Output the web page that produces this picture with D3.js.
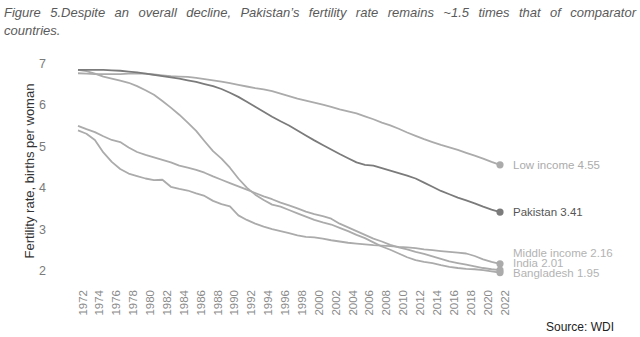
<!DOCTYPE html>
<html>
<head>
<meta charset="utf-8">
<script src="https://cdn.jsdelivr.net/npm/d3@7"></script>
<style>
  html, body { margin: 0; padding: 0; background: #fff; }
  svg { display: block; font-family: "Liberation Sans", Arial, sans-serif; }
</style>
</head>
<body>
<svg id="chart" width="640" height="337"></svg>
<script>
const years = d3.range(1972, 2023);
const tickYears = d3.range(1972, 2023, 2);
const yTicks = [2, 3, 4, 5, 6, 7];

const pakistan = [6.84,6.84,6.84,6.84,6.83,6.82,6.80,6.78,6.75,6.72,6.69,6.66,6.63,6.59,6.55,6.50,6.45,6.38,6.29,6.19,6.07,5.95,5.83,5.71,5.60,5.50,5.38,5.26,5.14,5.03,4.92,4.81,4.71,4.61,4.55,4.53,4.47,4.41,4.35,4.29,4.22,4.12,4.02,3.92,3.84,3.76,3.69,3.62,3.54,3.47,3.41];
const lowIncome = [6.76,6.75,6.74,6.74,6.74,6.74,6.75,6.75,6.75,6.73,6.71,6.69,6.68,6.67,6.65,6.62,6.59,6.56,6.52,6.48,6.44,6.40,6.37,6.33,6.27,6.21,6.15,6.10,6.05,6.00,5.95,5.89,5.84,5.79,5.72,5.65,5.57,5.50,5.42,5.33,5.25,5.17,5.10,5.03,4.97,4.91,4.84,4.77,4.70,4.62,4.55];
const bangladesh = [6.84,6.81,6.75,6.68,6.63,6.58,6.53,6.45,6.35,6.24,6.09,5.93,5.76,5.57,5.37,5.12,4.88,4.70,4.48,4.22,4.00,3.83,3.70,3.59,3.54,3.46,3.38,3.30,3.22,3.16,3.11,3.03,2.95,2.86,2.78,2.68,2.58,2.50,2.41,2.32,2.25,2.21,2.18,2.13,2.09,2.06,2.04,2.03,2.01,1.98,1.95];
const india = [5.49,5.41,5.34,5.24,5.15,5.10,4.97,4.86,4.79,4.73,4.67,4.61,4.53,4.48,4.43,4.36,4.27,4.19,4.11,4.03,3.95,3.87,3.79,3.72,3.64,3.57,3.50,3.42,3.36,3.31,3.25,3.13,3.04,2.95,2.86,2.77,2.70,2.62,2.56,2.51,2.45,2.40,2.34,2.28,2.22,2.18,2.14,2.10,2.06,2.03,2.01];
const middleIncome = [5.38,5.30,5.15,4.85,4.62,4.45,4.34,4.28,4.22,4.18,4.19,4.02,3.97,3.93,3.86,3.80,3.68,3.60,3.55,3.33,3.22,3.13,3.06,3.00,2.95,2.90,2.85,2.81,2.80,2.77,2.73,2.70,2.67,2.65,2.63,2.61,2.60,2.59,2.57,2.56,2.54,2.51,2.49,2.47,2.45,2.43,2.41,2.35,2.27,2.21,2.16];

const seriesNames = ["Low income", "Pakistan", "Middle income", "India", "Bangladesh"];
const seriesValues = [lowIncome, pakistan, middleIncome, india, bangladesh];
const lineColors = ["#ababab", "#7b7b7b", "#ababab", "#ababab", "#ababab"];
const labelColors = ["#ababab", "#555555", "#b3b3b3", "#b3b3b3", "#b3b3b3"];

const titleLine1 = "Figure 5.Despite an overall decline, Pakistan’s fertility rate remains ~1.5 times that of comparator";
const titleLine2 = "countries.";
const yTitle = "Fertility rate, births per woman";
const sourceText = "Source: WDI";

const svg = d3.select("#chart");

const x = d3.scaleLinear().domain([1972, 2022]).range([78, 500]);
const y = d3.scaleLinear().domain([2, 7]).range([270.5, 63.3]);

// Title (justified first line)
const title = svg.append("g").attr("font-style", "italic").attr("font-size", 13).attr("fill", "#5a5a5a");
const words = titleLine1.split(" ");
const tmp = words.map(w => title.append("text").attr("y", 17).text(w));
const widths = tmp.map(t => t.node().getComputedTextLength());
const left = 4, right = 636;
const gap = (right - left - d3.sum(widths)) / (words.length - 1);
let cx = left;
tmp.forEach((t, i) => { t.attr("x", cx); cx += widths[i] + gap; });
title.append("text").attr("x", left).attr("y", 35).text(titleLine2);

// Y axis labels
const yAxis = d3.axisLeft(y).tickValues(yTicks).tickSize(0).tickPadding(0).tickFormat(d3.format("d"));
const gy = svg.append("g").attr("transform", "translate(46,0)").call(yAxis);
gy.select(".domain").remove();
gy.selectAll("text").attr("font-size", 12.5).attr("fill", "#7a7a7a").attr("font-family", "Liberation Sans, Arial, sans-serif");

svg.append("text")
  .attr("transform", "translate(34,171) rotate(-90)")
  .attr("text-anchor", "middle")
  .attr("font-size", 13)
  .attr("fill", "#333")
  .text(yTitle);

// X axis labels
const xAxis = d3.axisBottom(x).tickValues(tickYears).tickSize(0).tickPadding(0).tickFormat(d3.format("d"));
const gx = svg.append("g").attr("transform", "translate(0,290)").call(xAxis);
gx.select(".domain").remove();
gx.selectAll(".tick text")
  .attr("font-size", 11.5)
  .attr("fill", "#8a8a8a")
  .attr("font-family", "Liberation Sans, Arial, sans-serif")
  .attr("text-anchor", "end")
  .attr("x", 0).attr("y", 0).attr("dy", "0.35em")
  .attr("transform", "translate(4,0) rotate(-90)");

// Lines
const line = d3.line().x((d, i) => x(years[i])).y(d => y(d)).curve(d3.curveLinear);
const order = [0, 2, 3, 4, 1];
order.forEach(k => {
  svg.append("path")
    .datum(seriesValues[k])
    .attr("fill", "none")
    .attr("stroke", lineColors[k])
    .attr("stroke-width", 1.8)
    .attr("stroke-linejoin", "round")
    .attr("d", line);
});
order.forEach(k => {
  const v = seriesValues[k];
  svg.append("circle")
    .attr("cx", x(years[years.length - 1]))
    .attr("cy", y(v[v.length - 1]))
    .attr("r", 3.6)
    .attr("fill", lineColors[k]);
});

// End labels with dodge
const lastVals = seriesValues.map(v => v[v.length - 1]);
const labelY = lastVals.map(v => y(v));
const idx = d3.range(seriesNames.length).sort((a, b) => labelY[b] - labelY[a]);
for (let j = 1; j < idx.length; j++) {
  const prev = labelY[idx[j - 1]];
  if (prev - labelY[idx[j]] < 10) labelY[idx[j]] = prev - 10;
}
seriesNames.forEach((n, k) => {
  svg.append("text")
    .attr("x", 513)
    .attr("y", labelY[k])
    .attr("dy", "0.35em")
    .attr("font-size", 11.5)
    .attr("fill", labelColors[k])
    .text(n + " " + d3.format(".2f")(lastVals[k]));
});

// Source
svg.append("text")
  .attr("x", 614).attr("y", 331)
  .attr("text-anchor", "end")
  .attr("font-size", 12)
  .attr("fill", "#222")
  .text(sourceText);
</script>
</body>
</html>
